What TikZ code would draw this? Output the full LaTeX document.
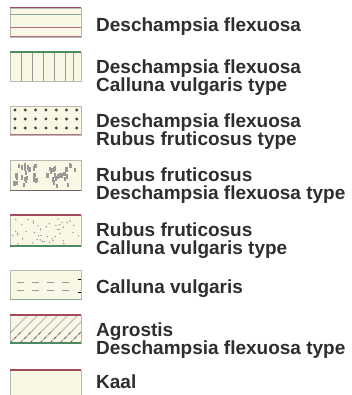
\documentclass[tikz,border=0pt]{standalone}
\usepackage{fontspec}
\setmainfont{Liberation Sans}

\definecolor{legfill}{HTML}{FAF8E4}
\definecolor{legred}{HTML}{A24A5C}
\definecolor{leggreen}{HTML}{4C8A60}
\definecolor{leggray}{HTML}{9A9A96}
\definecolor{legtext}{HTML}{2E2E2E}

\begin{document}
\begin{tikzpicture}[x=1pt,y=-1pt,
  legbox/.style={fill=legfill,draw=leggray!70,line width=0.8pt},
  leglabel/.style={anchor=north west,align=left,inner sep=0pt,text=legtext,
    font=\bfseries\fontsize{19}{17.5}\selectfont\setlength\lineskiplimit{-20pt}}]
  \useasboundingbox (0,0) rectangle (352,395);

  % Deschampsia flexuosa: horizontal lines
  \draw[legbox] (10,8) rectangle (81,37);
  \draw[legred,line width=1pt] (10,8) -- (81,8);
  \draw[leggreen!70,line width=0.6pt] (10,14) -- (81,14);
  \draw[legred!80,line width=0.8pt] (10,27) -- (81,27);
  \draw[legred!80,line width=1pt] (10,37) -- (81,37);

  % with Calluna: vertical lines
  \draw[legbox] (10,52) rectangle (81,81);
  \foreach \x in {21,32,43,54,65,73} {
    \draw[leggray,line width=0.7pt] (\x,52) -- (\x,81);
  }
  \draw[leggreen,line width=1.2pt] (10,52) -- (81,52);

  % with Rubus: dots
  \draw[legbox] (10,106) rectangle (81,135);
  \foreach \x in {0,...,6} {
    \foreach \y in {4,13,22} {
      \fill[black!75] (15+10.3*\x,106+\y) circle (1.6);
    }
  }
  \draw[legred!80,line width=1pt] (10,135) -- (81,135);

  % Rubus fruticosus, Deschampsia type: blotches
  \draw[legbox] (10,160) rectangle (81,190);
  \pgfmathsetseed{11}
  \foreach \i in {1,...,48} {
    \pgfmathsetmacro{\bx}{13+65*rnd}
    \pgfmathsetmacro{\by}{162+23*rnd}
    \fill[black!40] (\bx,\by) rectangle ++(2.2,4.5);
  }
  \draw[black!60,line width=1pt] (10,190) -- (81,190);

  % Rubus fruticosus, Calluna type: fine dots
  \draw[legbox] (10,215) rectangle (81,246);
  \pgfmathsetseed{5}
  \foreach \i in {1,...,45} {
    \pgfmathsetmacro{\bx}{12+67*rnd}
    \pgfmathsetmacro{\by}{218+26*rnd}
    \fill[leggray] (\bx,\by) circle (0.8);
  }
  \draw[legred,line width=1.2pt] (10,215) -- (81,215);
  \draw[leggreen,line width=1.2pt] (10,246) -- (81,246);

  % Calluna vulgaris: dashes
  \draw[legbox] (10,270) rectangle (81,299);
  \foreach \x in {17,32,47,62} {
    \foreach \y in {282,290} {
      \draw[leggray,line width=0.9pt] (\x,\y) -- ++(7,0);
    }
  }
  \foreach \y in {279,292} {
    \draw[black,line width=1pt] (78,\y) -- (81,\y);
  }
  \draw[leggreen!70,line width=1pt] (10,299) -- (81,299);

  % Agrostis: hatching
  \draw[legbox] (10,315) rectangle (81,343);
  \begin{scope}
    \clip (10,315) rectangle (81,343);
    \foreach \x in {0,10,...,100} {
      \draw[leggray!60,line width=1.4pt] (\x,343) -- (\x+28,315);
    }
    \foreach \x in {0,10,...,100} {
      \draw[black!70,line width=0.6pt,dashed] (\x,343) -- (\x+13,330);
    }
  \end{scope}
  \draw[legred,line width=1.2pt] (10,315) -- (81,315);
  \draw[leggreen,line width=1.2pt] (10,343) -- (81,343);

  % Kaal: plain
  \draw[legbox] (10,370) rectangle (81,399);
  \draw[legred,line width=1.2pt] (10,370) -- (81,370);

  \node[leglabel] (lab-df) at (96,18) {Deschampsia flexuosa};
  \node[leglabel] (lab-dfcv) at (96,60) {Deschampsia flexuosa\\Calluna vulgaris type};
  \node[leglabel] (lab-dfrf) at (96,114) {Deschampsia flexuosa\\Rubus fruticosus type};
  \node[leglabel] (lab-rfdf) at (96,168) {Rubus fruticosus\\Deschampsia flexuosa type};
  \node[leglabel] (lab-rfcv) at (96,223) {Rubus fruticosus\\Calluna vulgaris type};
  \node[leglabel] (lab-cv) at (96,280) {Calluna vulgaris};
  \node[leglabel] (lab-ag) at (96,323) {Agrostis\\Deschampsia flexuosa type};
  \node[leglabel] (lab-kaal) at (96,375) {Kaal};
\end{tikzpicture}
\end{document}
